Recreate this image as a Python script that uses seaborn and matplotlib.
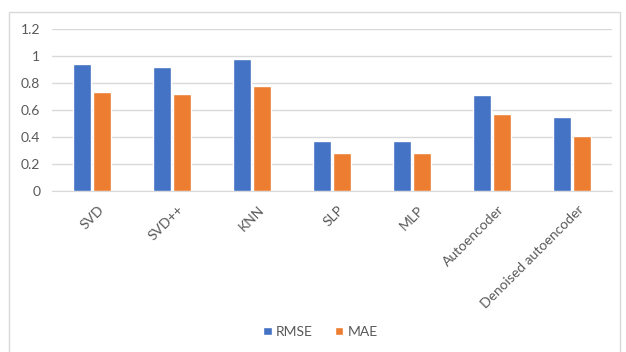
import pandas as pd
import seaborn as sns
import matplotlib.pyplot as plt
import matplotlib.transforms as mtransforms
from matplotlib.patches import Rectangle

# Dados do gráfico
modelos = ['SVD', 'SVD++', 'KNN', 'SLP', 'MLP', 'Autoencoder', 'Denoised autoencoder']
rmse = [0.94, 0.92, 0.98, 0.37, 0.37, 0.71, 0.55]
mae = [0.73, 0.72, 0.78, 0.28, 0.28, 0.57, 0.41]

df = pd.DataFrame({
    'modelo': modelos * 2,
    'valor': rmse + mae,
    'metrica': ['RMSE'] * len(modelos) + ['MAE'] * len(modelos),
})

sns.set_style('white')
plt.rcParams['font.family'] = ['Lato', 'DejaVu Sans']
cinza = '#595959'

fig = plt.figure(figsize=(6.26, 3.52), dpi=100)
ax = fig.add_axes([0.083, 0.457, 0.895, 0.461])

sns.barplot(data=df, x='modelo', y='valor', hue='metrica',
            palette={'RMSE': '#4472C4', 'MAE': '#ED7D31'},
            width=0.51, gap=0.12, saturation=1, ax=ax, zorder=3)

ax.set_ylim(0, 1.2)
ax.set_yticks([0, 0.2, 0.4, 0.6, 0.8, 1, 1.2])
ax.set_yticklabels(['0', '0.2', '0.4', '0.6', '0.8', '1', '1.2'])
ax.grid(axis='y', color='#D9D9D9', linewidth=1, zorder=0)
ax.set_xlabel('')
ax.set_ylabel('')
for s in ['top', 'right', 'left']:
    ax.spines[s].set_visible(False)
ax.spines['bottom'].set_color('#D9D9D9')
ax.tick_params(axis='both', length=0, colors=cinza, labelsize=10)
ax.tick_params(axis='y', pad=8.5)
ax.tick_params(axis='x', pad=9)

# rótulos inclinados, um pouco deslocados para a direita
desloc = mtransforms.ScaledTranslation(4 / 72, 0, fig.dpi_scale_trans)
for lbl in ax.get_xticklabels():
    lbl.set_rotation(45)
    lbl.set_ha('right')
    lbl.set_rotation_mode('anchor')
    lbl.set_transform(lbl.get_transform() + desloc)

# legenda embaixo
handles, labels = ax.get_legend_handles_labels()
ax.legend_.remove()
fig.legend(handles, labels, loc='center', bbox_to_anchor=(0.512, 0.057), ncol=2,
           frameon=False, fontsize=10, labelcolor=cinza, handlelength=0.6,
           handleheight=0.6, handletextpad=0.3, columnspacing=1.6)

# borda da área do gráfico
fig.patches.append(Rectangle((0.0144, -0.01), 0.976, 0.976, transform=fig.transFigure,
                             fill=False, edgecolor='#D9D9D9', linewidth=1))

plt.savefig('out.png', dpi=100)
